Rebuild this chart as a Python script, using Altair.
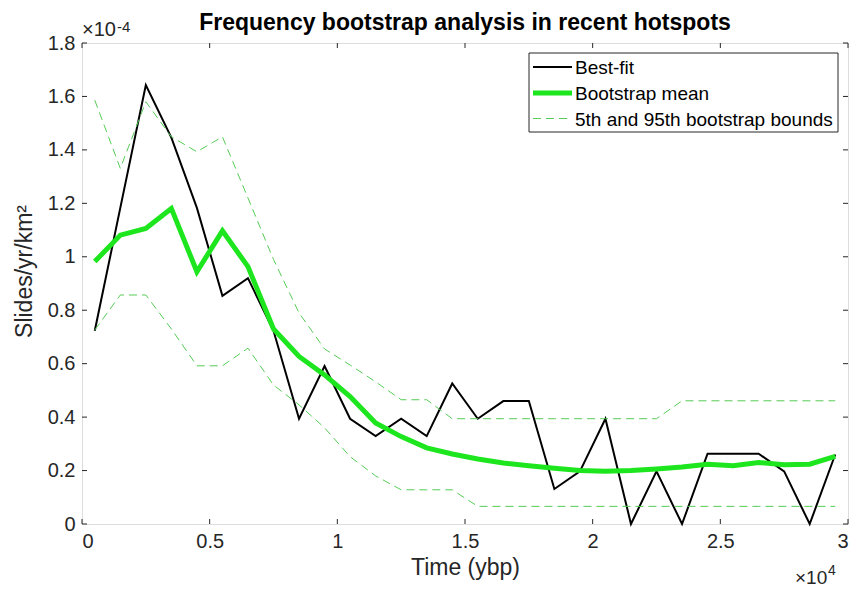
import altair as alt
import pandas as pd

# Time (years before present)
time_ybp = [500, 1500, 2500, 3500, 4500, 5500, 6500, 7500, 8500, 9500,
            10500, 11500, 12500, 13500, 14500, 15500, 16500, 17500, 18500, 19500,
            20500, 21500, 22500, 23500, 24500, 25500, 26500, 27500, 28500, 29500]

# Slides/yr/km^2, in units of 1e-4
best_fit = [0.723, 1.183, 1.643, 1.446, 1.183, 0.854, 0.920, 0.723, 0.394, 0.591,
            0.394, 0.329, 0.394, 0.329, 0.526, 0.394, 0.460, 0.460, 0.131, 0.197,
            0.394, 0.0, 0.197, 0.0, 0.263, 0.263, 0.263, 0.197, 0.0, 0.260]
boot_mean = [0.982, 1.081, 1.106, 1.181, 0.944, 1.097, 0.963, 0.730, 0.627, 0.558,
             0.477, 0.378, 0.327, 0.285, 0.262, 0.243, 0.228, 0.218, 0.209, 0.200,
             0.197, 0.200, 0.206, 0.213, 0.224, 0.218, 0.230, 0.222, 0.224, 0.253]
upper_95 = [1.586, 1.331, 1.580, 1.449, 1.393, 1.449, 1.220, 0.990, 0.790, 0.655,
            0.595, 0.532, 0.465, 0.465, 0.394, 0.394, 0.394, 0.394, 0.394, 0.394,
            0.394, 0.394, 0.394, 0.461, 0.461, 0.461, 0.461, 0.461, 0.461, 0.461]
lower_5 = [0.726, 0.857, 0.857, 0.730, 0.592, 0.592, 0.658, 0.520, 0.446, 0.360,
           0.252, 0.180, 0.128, 0.128, 0.128, 0.066, 0.066, 0.066, 0.066, 0.066,
           0.066, 0.066, 0.066, 0.066, 0.066, 0.066, 0.066, 0.066, 0.066, 0.066]

series_names = ["Best-fit", "Bootstrap mean", "5th and 95th bootstrap bounds"]
COL_BEST = "#000000"
COL_MEAN = "#1ee61e"
COL_BND = "#55cc55"

x_ticks = [0, 5000, 10000, 15000, 20000, 25000, 30000]
y_ticks = [0, 0.2, 0.4, 0.6, 0.8, 1.0, 1.2, 1.4, 1.6, 1.8]

rows = []
for line_id, vals in [("best", best_fit), ("mean", boot_mean),
                      ("upper", upper_95), ("lower", lower_5)]:
    for t, v in zip(time_ybp, vals):
        rows.append({"time": t, "value": v, "line": line_id})
df = pd.DataFrame(rows)

W, H = 766, 481
FONT = "Liberation Sans"
AXC = "#262626"

xscale = alt.Scale(domain=[0, 30000], nice=False, zero=False)
yscale = alt.Scale(domain=[0, 1.8], nice=False, zero=False)
xaxis = alt.Axis(values=x_ticks, domain=False, ticks=False, tickSize=0, grid=False,
                 labelExpr="format(datum.value/10000, '~g')", labelPadding=7,
                 labelFontSize=20, labelFont=FONT, labelColor=AXC,
                 titleFontSize=23, titleFont=FONT, titleFontWeight="normal",
                 titleColor=AXC, titlePadding=5)
yaxis = alt.Axis(values=y_ticks, domain=False, ticks=False, tickSize=0, grid=False,
                 format=".1~f", labelPadding=7,
                 labelFontSize=20, labelFont=FONT, labelColor=AXC,
                 titleFontSize=23, titleFont=FONT, titleFontWeight="normal",
                 titleColor=AXC, titlePadding=11, titleY=228)
XT = "Time (ybp)"
YT = "Slides/yr/km²"
XE_line = alt.X("time:Q", scale=xscale, axis=xaxis, title=XT)
YE_line = alt.Y("value:Q", scale=yscale, axis=yaxis, title=YT)

base = alt.Chart(df)
best_layer = base.transform_filter("datum.line == 'best'").mark_line(
    color=COL_BEST, strokeWidth=2).encode(x=XE_line, y=YE_line)
mean_layer = base.transform_filter("datum.line == 'mean'").mark_line(
    color=COL_MEAN, strokeWidth=5).encode(x=XE_line, y=YE_line)
bnd_layer = base.transform_filter("datum.line == 'upper' || datum.line == 'lower'").mark_line(
    color=COL_BND, strokeWidth=1, strokeDash=[8, 5]).encode(
    x=XE_line, y=YE_line, detail="line:N")

xt_df = pd.DataFrame({"t": x_ticks})
yt_df = pd.DataFrame({"v": y_ticks})
XE = alt.X("t:Q", scale=xscale, axis=xaxis, title=XT)
YE = alt.Y("v:Q", scale=yscale, axis=yaxis, title=YT)

tick_bottom = alt.Chart(xt_df).mark_rule(color=AXC, strokeWidth=1).encode(
    x=XE, y=alt.value(H), y2=alt.value(H - 5))
tick_top = alt.Chart(xt_df).mark_rule(color=AXC, strokeWidth=1).encode(
    x=XE, y=alt.value(0), y2=alt.value(5))
tick_left = alt.Chart(yt_df).mark_rule(color=AXC, strokeWidth=1).encode(
    y=YE, x=alt.value(0), x2=alt.value(5))
tick_right = alt.Chart(yt_df).mark_rule(color=AXC, strokeWidth=1).encode(
    y=YE, x=alt.value(W), x2=alt.value(W - 5))

ann_df = pd.DataFrame({"k": [0]})
def txt(s, x, y, size, align="left", weight="normal", color=AXC):
    return alt.Chart(ann_df).mark_text(text=s, fontSize=size, font=FONT, color=color,
                                        align=align, baseline="alphabetic",
                                        fontWeight=weight).encode(
        x=alt.value(x), y=alt.value(y))

title = txt("Frequency bootstrap analysis in recent hotspots", W / 2, -13, 23,
            align="center", weight="bold", color="#000000")
exp_y1 = txt("×10", 0, -7, 20)
exp_y2 = txt("-4", 35, -11, 15)
exp_x1 = txt("×10", 713, 541, 19)
exp_x2 = txt("4", 746, 532, 14)

# Legend (drawn by hand: box, line samples and labels)
LX0, LX1, LY0, LY1 = 447, 756, 10, 89
leg_box = alt.Chart(ann_df).mark_rect(fill="white", stroke=AXC, strokeWidth=1).encode(
    x=alt.value(LX0), x2=alt.value(LX1), y=alt.value(LY0), y2=alt.value(LY1))
row_y = [24, 50, 75.5]
def leg_line(y, color, width, dash=None):
    kw = dict(color=color, strokeWidth=width)
    if dash is not None:
        kw["strokeDash"] = dash
    return alt.Chart(ann_df).mark_rule(**kw).encode(
        x=alt.value(451), x2=alt.value(490), y=alt.value(y))
def leg_text(s, y):
    return alt.Chart(ann_df).mark_text(text=s, fontSize=19, font=FONT, color="#000000",
                                        align="left", baseline="middle").encode(
        x=alt.value(493), y=alt.value(y + 1))

legend_layers = [
    leg_box,
    leg_line(row_y[0], COL_BEST, 2), leg_text(series_names[0], row_y[0]),
    leg_line(row_y[1], COL_MEAN, 5), leg_text(series_names[1], row_y[1]),
    leg_line(row_y[2], COL_BND, 1, [8, 5]), leg_text(series_names[2], row_y[2]),
]

chart = alt.layer(best_layer, mean_layer, bnd_layer,
                  tick_bottom, tick_top, tick_left, tick_right,
                  title, exp_y1, exp_y2, exp_x1, exp_x2,
                  *legend_layers).properties(
    width=W, height=H,
    autosize=alt.AutoSizeParams(type="none"),
    padding={"left": 82, "top": 43, "right": 1, "bottom": 66},
).configure_view(stroke=AXC, strokeWidth=1).configure(background="white")

chart.save("out.html", embed_options={"renderer": "svg", "actions": False})
